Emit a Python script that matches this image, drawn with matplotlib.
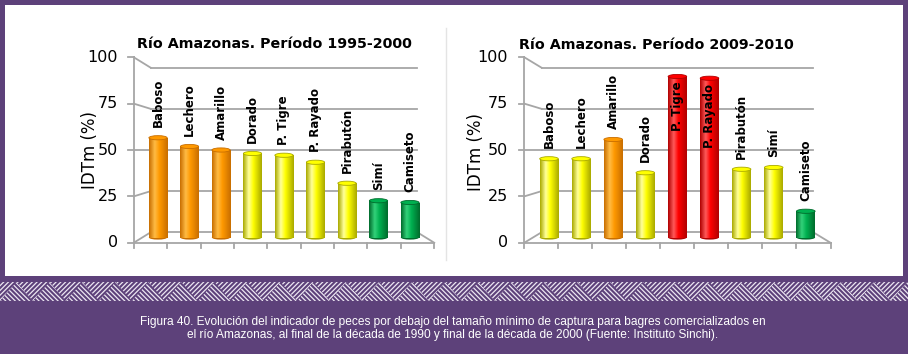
import numpy as np
import matplotlib
matplotlib.use('Agg')
import matplotlib.pyplot as plt
from matplotlib.patches import Rectangle, Polygon, Ellipse
from matplotlib.colors import LinearSegmentedColormap

# datos
especies = ['Baboso', 'Lechero', 'Amarillo', 'Dorado', 'P. Tigre', 'P. Rayado',
            'Pirabutón', 'Simí', 'Camiseto']
idtm_1995 = [57, 52, 50, 48, 47, 43, 31, 21, 20]
idtm_2009 = [45, 45, 56, 37, 92, 91, 39, 40, 15]
color_1995 = ['naranja', 'naranja', 'naranja', 'amarillo', 'amarillo', 'amarillo',
              'amarillo', 'verde', 'verde']
color_2009 = ['amarillo', 'amarillo', 'naranja', 'amarillo', 'rojo', 'rojo',
              'amarillo', 'amarillo', 'verde']
yticks = [0, 25, 50, 75, 100]

titulo_1 = 'Río Amazonas. Período 1995-2000'
titulo_2 = 'Río Amazonas. Período 2009-2010'
ylab = 'IDTm (%)'
caption_1 = ('Figura 40. Evolución del indicador de peces por debajo del tamaño mínimo '
             'de captura para bagres comercializados en')
caption_2 = ('el río Amazonas, al final de la década de 1990 y final de la década '
             'de 2000 (Fuente: Instituto Sinchi).')

purple = '#5d417a'
grid_c = '#a6a6a6'

# (borde oscuro, medio, brillo)
paleta = {
    'naranja': ('#c86e00', '#ff9900', '#ffbb44'),
    'amarillo': ('#a9a900', '#ffff00', '#ffff9a'),
    'rojo': ('#b00000', '#ff0000', '#ff5a5a'),
    'verde': ('#006b2c', '#00b050', '#33d27a'),
}

fig = plt.figure(figsize=(9.08, 3.54), dpi=100)
fig.patch.set_facecolor(purple)

bg = fig.add_axes([0, 0, 1, 1])
bg.set_xlim(0, 908)
bg.set_ylim(354, 0)
bg.axis('off')

# panel blanco
bg.add_patch(Rectangle((5, 5), 898, 271, facecolor='white', edgecolor='none'))
bg.plot([446, 446], [28, 260], color='#e4e4e4', lw=1)

# banda en zigzag
plt.rcParams['hatch.linewidth'] = 0.9
y0, y1 = 282, 301
per = 33
for k in range(-1, 29):
    xa = k * per
    up = Polygon([(xa, y1), (xa + per / 2, y0), (xa + per, y1)], closed=True,
                 facecolor=purple, edgecolor='#ece6f2', lw=0, hatch='\\' * 7)
    dn = Polygon([(xa + per / 2, y0), (xa + per, y1), (xa + 1.5 * per, y0)], closed=True,
                 facecolor=purple, edgecolor='#ece6f2', lw=0, hatch='/' * 7)
    bg.add_patch(up)
    bg.add_patch(dn)

bg.text(453, 322, caption_1, color='white', fontsize=8.6, family='Liberation Sans',
        ha='center', va='center')
bg.text(453, 335, caption_2, color='white', fontsize=8.6, family='Liberation Sans',
        ha='center', va='center')

bg.text(274, 44, titulo_1, fontsize=10.3, fontweight='bold', ha='center', va='center')
bg.text(656, 45, titulo_2, fontsize=10.3, fontweight='bold', ha='center', va='center')
bg.text(90, 150, ylab, fontsize=12, rotation=90, ha='center', va='center')
bg.text(476, 152, ylab, fontsize=12, rotation=90, ha='center', va='center')


def cilindro_cmap(key):
    dark, mid, light = paleta[key]
    return LinearSegmentedColormap.from_list(key, [(0, dark), (0.3, light), (0.55, mid),
                                                   (1, dark)])


def draw_chart(ax, values, colors, xstep):
    n = len(values)
    kf, kb = 1.06, 0.94
    cx, cy = (n - 1) / 2, 50

    def front(i, v):
        return cx + (i - cx) * kf, cy + (v - cy) * kf

    def back(i, v):
        return cx + (i - cx) * kb, cy + (v - cy) * kb

    lo, hi = -0.5, n - 0.5
    lk = dict(color=grid_c, lw=1.3, clip_on=False, zorder=1)
    for v in yticks:
        fx, fy = front(lo, v)
        bx, by = back(lo, v)
        ex, ey = back(hi, v)
        ax.plot([fx, bx], [fy, by], **lk)
        ax.plot([bx, ex], [by, ey], **lk)
        ax.plot([fx - 0.17, fx], [fy, fy], **lk)
        ax.text(fx - 0.5, fy, str(v), fontsize=11.5, ha='right', va='center')
    f0 = front(lo, 0)
    f1 = front(lo, 100)
    ax.plot([f0[0], f1[0]], [f0[1], f1[1]], **lk)
    g1 = front(hi, 0)
    b1 = back(hi, 0)
    ax.plot([f0[0], g1[0]], [f0[1], g1[1]], **lk)
    ax.plot([g1[0], b1[0]], [g1[1], b1[1]], **lk)
    for k in range(n + 1):
        tx, ty = front(lo + k, 0)
        ax.plot([tx, tx], [ty, ty - 3], **lk)

    w = 0.58
    grad = np.linspace(0, 1, 64).reshape(1, -1)
    bars = ax.bar(range(n), values, width=w, color='none', edgecolor='none', zorder=3)
    for i, (b, v, c) in enumerate(zip(bars, values, colors)):
        cmap = cilindro_cmap(c)
        dark, mid, light = paleta[c]
        ax.add_patch(Ellipse((i, 0), w, 2.4, facecolor=dark, edgecolor='none', zorder=2))
        im = ax.imshow(grad, extent=[i - w / 2, i + w / 2, 0, v], cmap=cmap,
                       aspect='auto', zorder=3, interpolation='bilinear')
        im.set_clip_path(b)
        ax.add_patch(Ellipse((i, v), w, 2.4, facecolor=mid, edgecolor=dark, lw=0.6,
                             zorder=4))
        if v > 80:
            ax.text(i, v - 3, especies[i], rotation=90, ha='center', va='top',
                    fontsize=8.5, fontweight='bold', zorder=5)
        else:
            ax.text(i, v + 6, especies[i], rotation=90, ha='center', va='bottom',
                    fontsize=8.5, fontweight='bold', zorder=5)
    ax.set_xlim(-1.5, 9.5)
    ax.set_ylim(-10, 110)
    ax.axis('off')


def add_chart(x_first, xstep, values, colors):
    left_px = x_first - 1.5 * xstep
    width_px = 11 * xstep
    bottom_px = 237.5 + 10 * 1.75
    height_px = 120 * 1.75
    ax = fig.add_axes([left_px / 908, (354 - bottom_px) / 354, width_px / 908,
                       height_px / 354])
    ax.patch.set_alpha(0)
    draw_chart(ax, values, colors, xstep)
    return ax


add_chart(158, 31.5, idtm_1995, color_1995)
add_chart(549, 32.1, idtm_2009, color_2009)

fig.savefig('out.png', dpi=100, facecolor=fig.get_facecolor())
